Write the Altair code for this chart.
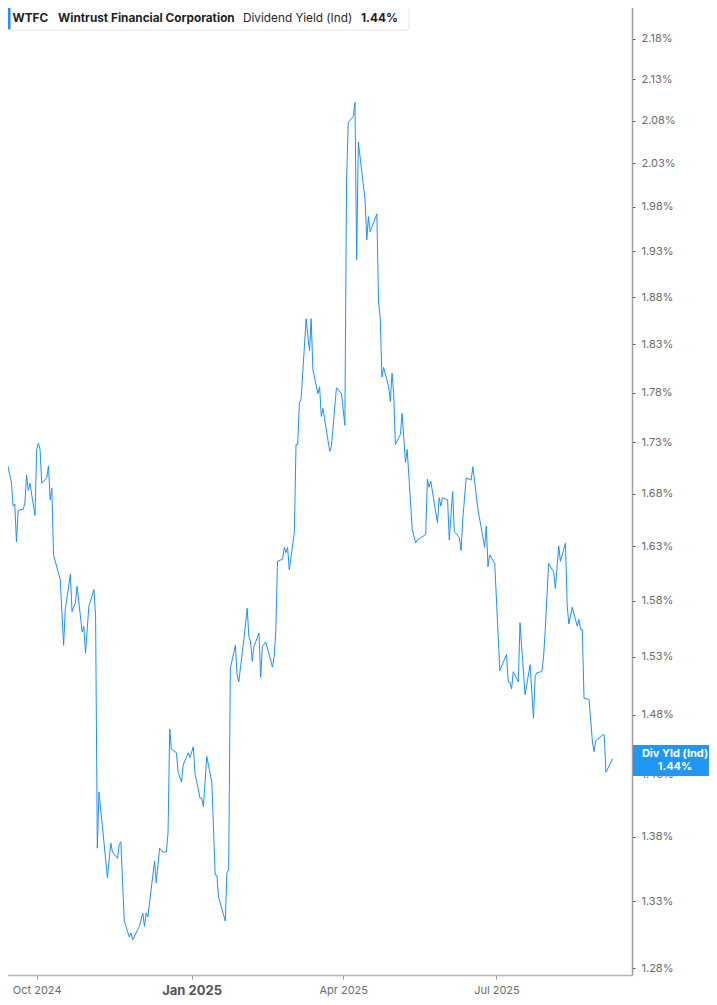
import altair as alt
import pandas as pd

# ---- data ----
dates = [
    "2024-09-09", "2024-09-11", "2024-09-12", "2024-09-13", "2024-09-16", "2024-09-17",
    "2024-09-18", "2024-09-19", "2024-09-20", "2024-09-23", "2024-09-24", "2024-09-25",
    "2024-09-26", "2024-09-27", "2024-09-30", "2024-10-01", "2024-10-02", "2024-10-03",
    "2024-10-04", "2024-10-07", "2024-10-08", "2024-10-09", "2024-10-10", "2024-10-11",
    "2024-10-15", "2024-10-17", "2024-10-18", "2024-10-21", "2024-10-22", "2024-10-24",
    "2024-10-25", "2024-10-28", "2024-10-29", "2024-10-30", "2024-11-01", "2024-11-04",
    "2024-11-05", "2024-11-06", "2024-11-07", "2024-11-10", "2024-11-12", "2024-11-14",
    "2024-11-15", "2024-11-18", "2024-11-19", "2024-11-20", "2024-11-22", "2024-11-25",
    "2024-11-26", "2024-11-27", "2024-12-01", "2024-12-03", "2024-12-04", "2024-12-05",
    "2024-12-06", "2024-12-10", "2024-12-11", "2024-12-13", "2024-12-15", "2024-12-17",
    "2024-12-18", "2024-12-19", "2024-12-20", "2024-12-23", "2024-12-24", "2024-12-26",
    "2024-12-27", "2024-12-30", "2024-12-31", "2025-01-02", "2025-01-03", "2025-01-06",
    "2025-01-07", "2025-01-08", "2025-01-10", "2025-01-13", "2025-01-15", "2025-01-16",
    "2025-01-17", "2025-01-21", "2025-01-22", "2025-01-23", "2025-01-24", "2025-01-27",
    "2025-01-28", "2025-01-29", "2025-02-01", "2025-02-03", "2025-02-04", "2025-02-05",
    "2025-02-06", "2025-02-07", "2025-02-10", "2025-02-11", "2025-02-12", "2025-02-14",
    "2025-02-18", "2025-02-19", "2025-02-20", "2025-02-21", "2025-02-24", "2025-02-25",
    "2025-02-26", "2025-02-27", "2025-02-28", "2025-03-03", "2025-03-04", "2025-03-05",
    "2025-03-06", "2025-03-07", "2025-03-10", "2025-03-12", "2025-03-13", "2025-03-14",
    "2025-03-17", "2025-03-18", "2025-03-19", "2025-03-20", "2025-03-24", "2025-03-25",
    "2025-03-28", "2025-03-31", "2025-04-02", "2025-04-03", "2025-04-04", "2025-04-07",
    "2025-04-08", "2025-04-09", "2025-04-10", "2025-04-14", "2025-04-15", "2025-04-16",
    "2025-04-17", "2025-04-21", "2025-04-22", "2025-04-23", "2025-04-24", "2025-04-25",
    "2025-04-28", "2025-04-29", "2025-04-30", "2025-05-01", "2025-05-02", "2025-05-05",
    "2025-05-06", "2025-05-08", "2025-05-09", "2025-05-12", "2025-05-14", "2025-05-15",
    "2025-05-20", "2025-05-21", "2025-05-22", "2025-05-23", "2025-05-27", "2025-05-28",
    "2025-05-29", "2025-05-30", "2025-06-02", "2025-06-03", "2025-06-05", "2025-06-06",
    "2025-06-09", "2025-06-10", "2025-06-11", "2025-06-13", "2025-06-16", "2025-06-17",
    "2025-06-20", "2025-06-24", "2025-06-25", "2025-06-26", "2025-06-27", "2025-06-30",
    "2025-07-03", "2025-07-07", "2025-07-08", "2025-07-09", "2025-07-10", "2025-07-11",
    "2025-07-14", "2025-07-15", "2025-07-18", "2025-07-21", "2025-07-23", "2025-07-24",
    "2025-07-25", "2025-07-28", "2025-07-29", "2025-07-30", "2025-08-01", "2025-08-04",
    "2025-08-05", "2025-08-07", "2025-08-08", "2025-08-11", "2025-08-12", "2025-08-13",
    "2025-08-15", "2025-08-18", "2025-08-19", "2025-08-20", "2025-08-21", "2025-08-22",
    "2025-08-25", "2025-08-27", "2025-08-28", "2025-08-29", "2025-09-02", "2025-09-03",
    "2025-09-04", "2025-09-08",
]
yields = [
    1.704, 1.764, 1.756, 1.713, 1.691, 1.668, 1.670, 1.634, 1.664, 1.665, 1.671, 1.698,
    1.683, 1.690, 1.659, 1.723, 1.729, 1.723, 1.690, 1.695, 1.707, 1.674, 1.685, 1.622,
    1.599, 1.540, 1.572, 1.604, 1.570, 1.578, 1.593, 1.552, 1.557, 1.533, 1.575, 1.590,
    1.566, 1.371, 1.416, 1.375, 1.348, 1.375, 1.368, 1.363, 1.374, 1.376, 1.315, 1.303,
    1.306, 1.301, 1.311, 1.321, 1.311, 1.321, 1.318, 1.361, 1.344, 1.371, 1.368, 1.368,
    1.383, 1.468, 1.451, 1.448, 1.432, 1.424, 1.438, 1.448, 1.444, 1.453, 1.431, 1.411,
    1.411, 1.404, 1.445, 1.424, 1.350, 1.350, 1.333, 1.315, 1.352, 1.354, 1.520, 1.540,
    1.514, 1.508, 1.545, 1.573, 1.548, 1.543, 1.526, 1.539, 1.551, 1.512, 1.539, 1.543,
    1.521, 1.530, 1.552, 1.616, 1.618, 1.629, 1.624, 1.629, 1.608, 1.643, 1.728, 1.728,
    1.770, 1.773, 1.857, 1.823, 1.857, 1.804, 1.779, 1.786, 1.756, 1.764, 1.721, 1.726,
    1.785, 1.779, 1.747, 2.008, 2.078, 2.085, 2.102, 1.921, 2.055, 1.988, 1.943, 1.969,
    1.952, 1.972, 1.875, 1.858, 1.796, 1.806, 1.786, 1.771, 1.800, 1.779, 1.728, 1.738,
    1.759, 1.710, 1.723, 1.646, 1.633, 1.636, 1.641, 1.694, 1.686, 1.692, 1.652, 1.676,
    1.668, 1.676, 1.674, 1.636, 1.682, 1.644, 1.638, 1.626, 1.655, 1.695, 1.693, 1.706,
    1.665, 1.629, 1.649, 1.611, 1.622, 1.614, 1.518, 1.532, 1.508, 1.508, 1.502, 1.517,
    1.508, 1.560, 1.497, 1.523, 1.477, 1.513, 1.516, 1.517, 1.530, 1.554, 1.614, 1.606,
    1.591, 1.630, 1.616, 1.633, 1.576, 1.559, 1.574, 1.557, 1.563, 1.554, 1.554, 1.494,
    1.493, 1.457, 1.449, 1.458, 1.463, 1.463, 1.432, 1.443,
]
y_ticks = [1.28, 1.33, 1.38, 1.43, 1.48, 1.53, 1.58, 1.63, 1.68, 1.73, 1.78, 1.83,
           1.88, 1.93, 1.98, 2.03, 2.08, 2.13, 2.18]
x_ticks = [(2024, 10), (2025, 1), (2025, 4), (2025, 7)]
header_texts = ["WTFC", "Wintrust Financial Corporation", "Dividend Yield (Ind)", "1.44%"]
end_label_texts = ["Div Yld (Ind)", "1.44%"]

df = pd.DataFrame({"date": dates, "yield": yields})

W, H = 632, 975
LINE = "#1e90ff"
FONT = "Inter"

x_enc = alt.X(
    "date:T",
    scale=alt.Scale(
        type="utc",
        domain=[
            alt.DateTime(year=2024, month=9, date=9, hours=5, minutes=17, utc=True),
            alt.DateTime(year=2025, month=9, date=19, hours=12, utc=True),
        ],
        nice=False,
    ),
    axis=alt.Axis(
        title=None,
        values=[alt.DateTime(year=y, month=m, date=1, utc=True) for y, m in x_ticks],
        labelExpr="utcFormat(datum.value, '%b %Y')",
        labelFontWeight={"expr": "utcmonth(datum.value) == 0 ? 'bold' : 'normal'"},
        labelFontSize={"expr": "utcmonth(datum.value) == 0 ? 13 : 11"},
        labelColor={"expr": "utcmonth(datum.value) == 0 ? '#555555' : '#6b6b6b'"},
        labelFont=FONT,
        labelPadding=5,
        tickSize=4,
        tickColor="#999999",
        domainColor="#b5b5b5",
        domainWidth=1.5,
        grid=False,
        labelFlush=False,
    ),
)
y_enc = alt.Y(
    "yield:Q",
    scale=alt.Scale(type="log", domain=[1.2749, 2.2292], nice=False, zero=False),
    axis=alt.Axis(
        orient="right",
        title=None,
        values=y_ticks,
        labelExpr="format(datum.value, '.2f') + '%'",
        labelFont=FONT,
        labelFontSize=11,
        labelColor="#6b6b6b",
        labelPadding=6,
        tickSize=3,
        tickColor="#555555",
        domainColor="#9e9e9e",
        domainWidth=1.5,
        grid=False,
    ),
)

line = alt.Chart(df).mark_line(color=LINE, strokeWidth=1, clip=True).encode(x=x_enc, y=y_enc)

one = alt.Data(values=[{}])

legend_box = alt.Chart(one).mark_rect(
    fill="white", stroke="#e4e4e4", strokeWidth=1, cornerRadius=3
).encode(x=alt.value(8.5), x2=alt.value(409), y=alt.value(4), y2=alt.value(30))
legend_bar = alt.Chart(one).mark_rect(fill=LINE, cornerRadius=1).encode(
    x=alt.value(8), x2=alt.value(10.5), y=alt.value(4.5), y2=alt.value(29.5)
)

header_x = [12.5, 58, 243, 361]
header_w = ["bold", "bold", "normal", "bold"]
header_layers = []
for t, xx, fw in zip(header_texts, header_x, header_w):
    header_layers.append(
        alt.Chart(one).mark_text(
            text=t, align="left", baseline="alphabetic", font=FONT, fontSize=11.8,
            fontWeight=fw, color="#1f1f1f",
        ).encode(x=alt.value(xx), y=alt.value(21.5))
    )

end_box = alt.Chart(one).mark_rect(fill="#2196f3").encode(
    x=alt.value(633), x2=alt.value(720), y=alt.value(745), y2=alt.value(776)
)
end_t1 = alt.Chart(one).mark_text(
    text=end_label_texts[0], align="center", baseline="middle", font=FONT,
    fontSize=11, fontWeight="bold", color="white",
).encode(x=alt.value(675), y=alt.value(754))
end_t2 = alt.Chart(one).mark_text(
    text=end_label_texts[1], align="center", baseline="middle", font=FONT,
    fontSize=11, fontWeight="bold", color="white",
).encode(x=alt.value(675), y=alt.value(767))

chart = alt.layer(
    line, legend_box, legend_bar, *header_layers, end_box, end_t1, end_t2
).properties(
    width=W,
    height=H,
    autosize=alt.AutoSizeParams(type="none"),
    padding={"left": -8, "top": -8, "right": 77, "bottom": 24},
).configure_view(strokeWidth=0).configure(background="white")

chart.save("out.html", embed_options={"renderer": "svg", "actions": False})
